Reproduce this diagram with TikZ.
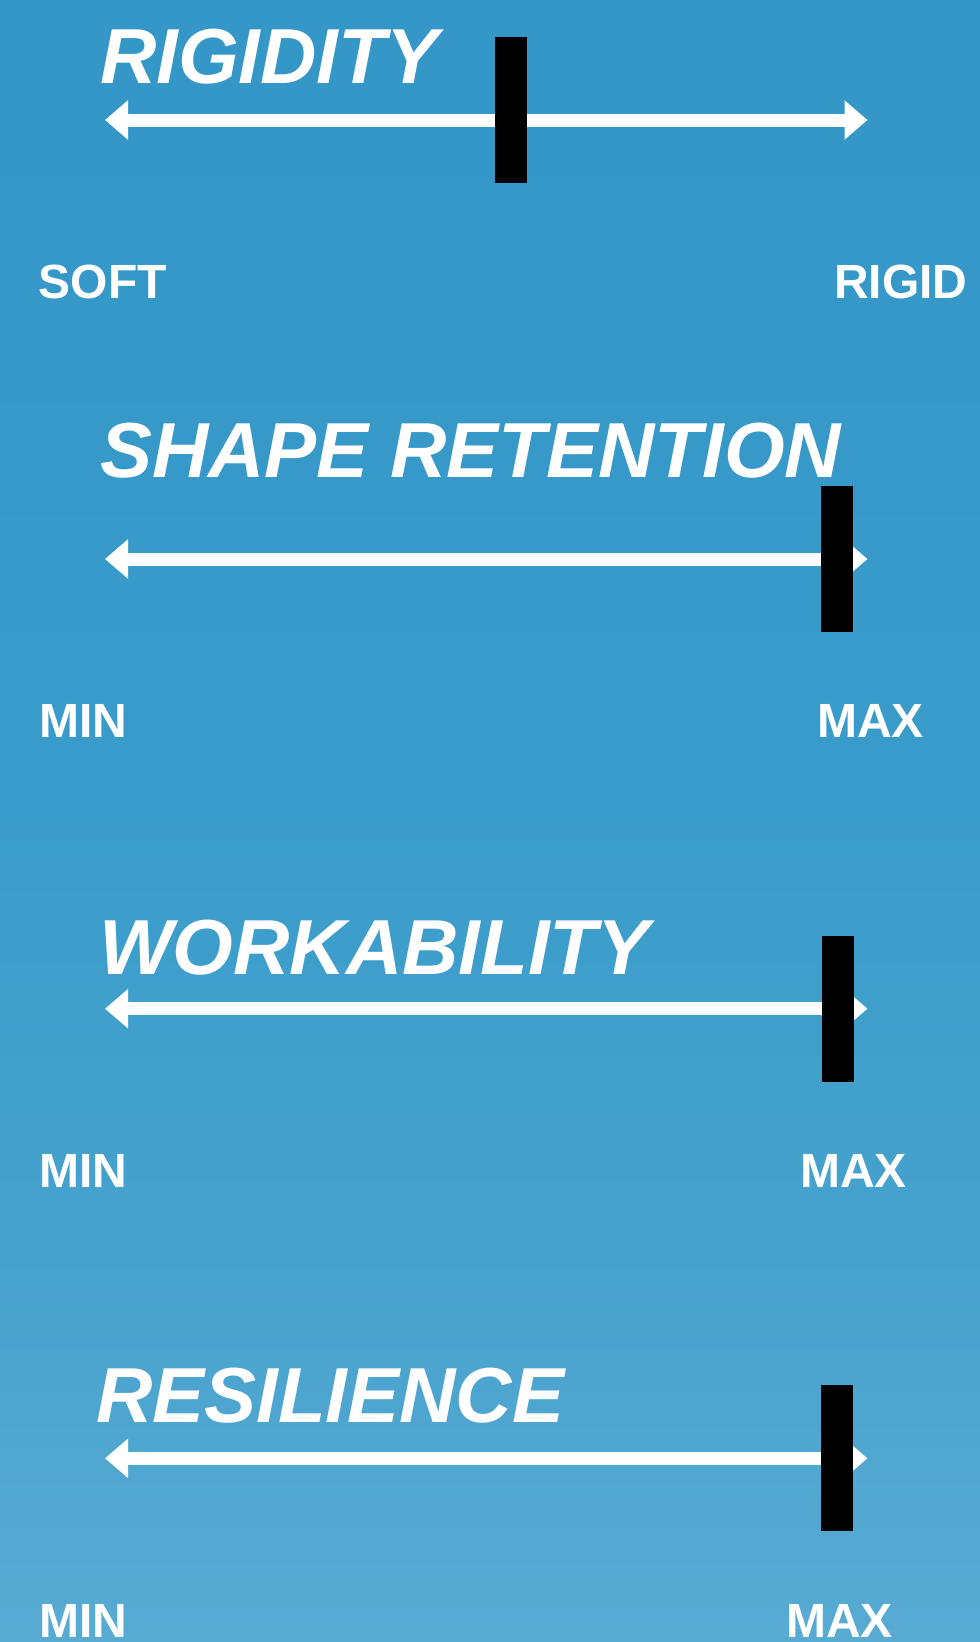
\documentclass[tikz,border=0pt]{standalone}
\usepackage{fontspec}
\setmainfont{Liberation Sans}
\usetikzlibrary{arrows.meta}
\definecolor{bgtop}{RGB}{52,151,199}
\definecolor{bgc1}{RGB}{53,152,200}
\definecolor{bgc2}{RGB}{58,156,202}
\definecolor{bgc3}{RGB}{70,162,205}
\definecolor{bgbot}{RGB}{88,171,211}
\pgfdeclareverticalshading{bgshade}{100bp}{color(0bp)=(bgbot); color(25bp)=(bgbot); color(37.4bp)=(bgc3); color(50.6bp)=(bgc2); color(64.5bp)=(bgc1); color(75bp)=(bgtop); color(100bp)=(bgtop)}
\tikzset{
  titletext/.style={anchor=base west,inner sep=0pt,text=white,font=\fontsize{78}{80}\selectfont\bfseries\itshape},
  endlabel/.style={anchor=base west,inner sep=0pt,text=white,font=\fontsize{48}{50}\selectfont\bfseries},
  scaleline/.style={draw=white,line width=13pt,line cap=butt,{Triangle[length=23pt,width=38pt]}-{Triangle[length=23pt,width=38pt]}},
  marker/.style={rectangle,fill=black,draw=none,inner sep=0pt,minimum width=32pt,minimum height=146pt}
}
\begin{document}
\begin{tikzpicture}[x=1pt,y=-1pt]
\useasboundingbox (0,0) rectangle (980,1642);
\shade[shading=bgshade] (0,0) rectangle (980,1642);

% Rigidity
\node[titletext] (t1) at (100,83) {RIGIDITY};
\coordinate (l1) at (105,120);
\coordinate (r1) at (867.5,120);
\draw[scaleline] (l1) -- (r1);
\node[marker] (m1) at (511,109.5) {};
\node[endlabel] (a1) at (38.5,298) {SOFT};
\node[endlabel] (b1) at (834,298) {RIGID};

% Shape retention
\node[titletext] (t2) at (100,477.5) {SHAPE RETENTION};
\coordinate (l2) at (105,559);
\coordinate (r2) at (867.5,559);
\draw[scaleline] (l2) -- (r2);
\node[marker] (m2) at (837,559) {};
\node[endlabel] (a2) at (39,737.5) {MIN};
\node[endlabel] (b2) at (817,737.5) {MAX};

% Workability
\node[titletext] (t3) at (99,974.5) {WORKABILITY};
\coordinate (l3) at (105,1008.7);
\coordinate (r3) at (867.5,1008.7);
\draw[scaleline] (l3) -- (r3);
\node[marker] (m3) at (838,1008.7) {};
\node[endlabel] (a3) at (39,1187) {MIN};
\node[endlabel] (b3) at (800,1187) {MAX};

% Resilience
\node[titletext] (t4) at (96,1422.7) {RESILIENCE};
\coordinate (l4) at (105,1458.3);
\coordinate (r4) at (867.5,1458.3);
\draw[scaleline] (l4) -- (r4);
\node[marker] (m4) at (837,1458.3) {};
\node[endlabel] (a4) at (39,1637) {MIN};
\node[endlabel] (b4) at (786,1637) {MAX};
\end{tikzpicture}
\end{document}
